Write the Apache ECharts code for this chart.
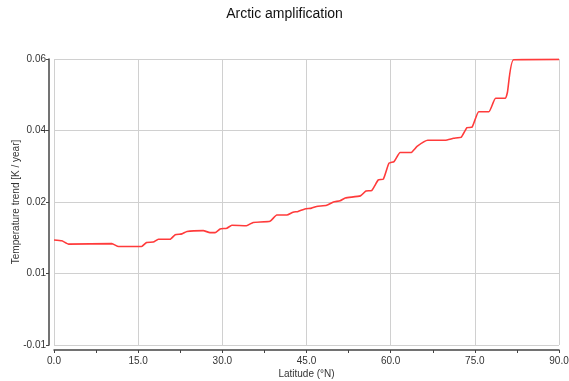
<!DOCTYPE html>
<html>
<head>
<meta charset="utf-8">
<script src="https://cdn.jsdelivr.net/npm/echarts@6/dist/echarts.min.js"></script>
<style>
  html, body { margin: 0; padding: 0; background: #fff; }
  #chart { width: 569px; height: 381px; }
</style>
</head>
<body>
<div id="chart"></div>
<script>
// latitude (deg N) and temperature trend (K / year)
const latitude = [0, 1.4, 2.6, 10.3, 11.5, 15.6, 16.5, 17.7, 18.6, 20.7, 21.6, 22.8, 23.7, 26.6, 27.8, 28.7,
  29.6, 30.8, 31.7, 34.3, 35.5, 38.5, 39.7, 41.5, 42.6, 43.5, 44.7, 45.9, 46.8, 48.6, 49.8, 51.0, 51.9,
  54.6, 55.6, 56.6, 57.8, 58.7, 59.7, 60.6, 61.7, 63.6, 64.7, 66.6, 69.7, 71.2, 72.6, 73.6, 74.5, 75.7,
  77.5, 78.7, 80.4, 80.8, 81.9, 90];
const trend = [0.0157, 0.0155, 0.0147, 0.0148, 0.0141, 0.0141, 0.0151, 0.0152, 0.0159, 0.0159, 0.0170,
  0.0172, 0.0178, 0.0180, 0.0175, 0.0175, 0.0184, 0.0186, 0.0193, 0.0192, 0.0200, 0.0203, 0.0218, 0.0218,
  0.0225, 0.0227, 0.0233, 0.0235, 0.0239, 0.0242, 0.0250, 0.0253, 0.0260, 0.0265, 0.0277, 0.0278, 0.0304,
  0.0306, 0.0345, 0.0349, 0.0371, 0.0371, 0.0386, 0.0401, 0.0401, 0.0406, 0.0409, 0.0432, 0.0433, 0.0471,
  0.0471, 0.0504, 0.0504, 0.0518, 0.0598, 0.0599];

// the y axis is split in 4 equal steps from -0.01 to 0.06, labels rounded as on the original
const yMin = -0.01;
const yStep = 0.0175;
const yTickLabels = ['-0.01', '0.01', '0.02', '0.04', '0.06'];

const myChart = echarts.init(document.getElementById('chart'));

const option = {
  animation: false,
  title: {
    text: 'Arctic amplification',
    left: 'center',
    top: 2,
    textStyle: { fontFamily: 'Liberation Sans', fontSize: 14, fontWeight: 'normal', color: '#111' }
  },
  grid: { left: 54, right: 10, top: 59, bottom: 36, outerBoundsMode: 'none' },
  xAxis: {
    type: 'value',
    min: 0,
    max: 90,
    interval: 15,
    offset: 5,
    name: 'Latitude (°N)',
    nameLocation: 'middle',
    nameGap: 19,
    nameMoveOverlap: false,
    nameTextStyle: { fontFamily: 'Liberation Sans', fontSize: 10, color: '#333' },
    axisLine: { onZero: false, lineStyle: { color: '#444', width: 1.5 } },
    axisTick: { length: 3, lineStyle: { color: '#444' } },
    minorTick: { show: true, splitNumber: 2, length: 3, lineStyle: { color: '#444' } },
    axisLabel: {
      fontFamily: 'Liberation Sans', fontSize: 10, color: '#333', margin: 6,
      formatter: v => v.toFixed(1)
    },
    splitLine: { show: true, lineStyle: { color: '#d0d0d0' } }
  },
  yAxis: {
    type: 'value',
    min: yMin,
    max: 0.06,
    interval: yStep,
    offset: 5,
    name: 'Temperature trend [K / year]',
    nameLocation: 'middle',
    nameGap: 28,
    nameMoveOverlap: false,
    nameTextStyle: { fontFamily: 'Liberation Sans', fontSize: 10, color: '#333' },
    axisLine: { show: true, onZero: false, lineStyle: { color: '#444', width: 1.5 } },
    axisTick: { show: true, length: 3, lineStyle: { color: '#444' } },
    axisLabel: {
      fontFamily: 'Liberation Sans', fontSize: 10, color: '#333', margin: 3,
      formatter: v => yTickLabels[Math.round((v - yMin) / yStep)]
    },
    splitLine: { show: true, lineStyle: { color: '#d0d0d0' } }
  },
  series: [{
    type: 'line',
    data: latitude.map((lat, i) => [lat, trend[i]]),
    showSymbol: false,
    smooth: 0.15,
    lineStyle: { color: '#ff3b3b', width: 1.6 }
  }]
};

myChart.setOption(option);
</script>
</body>
</html>
